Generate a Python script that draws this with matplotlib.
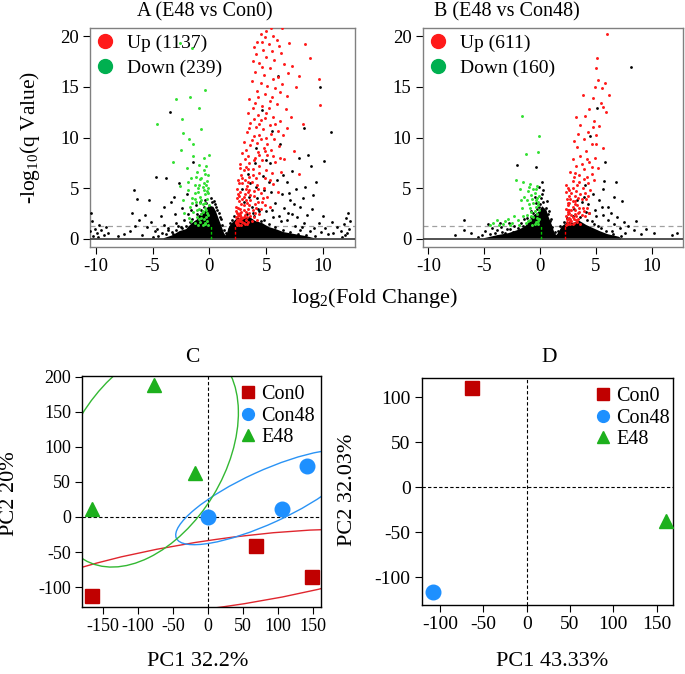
import numpy as np
import matplotlib
matplotlib.use('Agg')
import matplotlib.pyplot as plt
from matplotlib.patches import Ellipse
from matplotlib.lines import Line2D

plt.rcParams['font.family'] = ['Liberation Serif', 'DejaVu Serif']
plt.rcParams['mathtext.fontset'] = 'custom'
plt.rcParams['mathtext.rm'] = 'Liberation Serif'
plt.rcParams['mathtext.default'] = 'regular'
plt.rcParams['axes.unicode_minus'] = False

UP_RED = '#FF1A1A'
DOWN_GREEN = '#33E033'
LEG_GREEN = '#00B050'
SQ_RED = '#C00000'
CI_BLUE = '#1E90FF'
TR_GREEN = '#1DB01D'
FRAME_GRAY = '#808080'

# ---------------- volcano data (log2FC, -log10 q) ----------------
Q_CUT = 1.3
FC_LOW, FC_HIGH = 0.1, 2.25
volcano_titles = ['A (E48 vs Con0)', 'B (E48 vs Con48)']
up_labels = ['Up (1137)', 'Up (611)']
down_labels = ['Down (239)', 'Down (160)']

up_a = [
    (5.4, 20.8), (6.4, 20.8), (4.5, 20.2), (4.9, 19.9), (5.6, 20.0), (5.9, 19.6), (4.2, 19.4), (5.2, 19.2),
    (6.1, 19.0), (7.0, 19.3), (8.4, 19.2), (3.9, 18.9), (4.7, 18.6), (5.5, 18.5), (6.3, 18.3), (8.8, 17.8),
    (4.1, 18.2), (5.0, 17.9), (3.8, 17.5), (4.4, 17.3), (5.7, 17.6), (6.6, 17.2), (7.3, 17.0), (4.0, 16.5),
    (4.8, 16.2), (5.3, 16.8), (6.0, 16.0), (6.9, 16.4), (7.9, 16.1), (9.6, 15.8), (3.7, 15.6), (4.5, 15.4),
    (5.1, 15.1), (5.8, 14.9), (6.4, 15.3), (7.6, 15.0), (9.7, 13.2), (4.2, 14.6), (4.9, 14.3), (5.5, 14.0),
    (6.2, 14.5), (3.5, 13.8), (4.0, 13.4), (4.6, 13.1), (5.2, 12.9), (5.9, 13.3), (6.7, 12.8), (3.4, 12.4),
    (4.3, 12.2), (4.9, 11.9), (5.6, 12.0), (6.2, 11.6), (7.2, 12.0), (3.6, 11.4), (4.1, 11.0), (4.7, 10.8),
    (5.3, 11.2), (6.0, 10.6), (6.8, 10.9), (3.3, 10.5), (4.4, 10.2), (5.0, 10.0), (5.7, 9.9), (8.2, 11.3),
    (3.0, 9.6), (3.6, 9.3), (4.2, 9.5), (4.8, 9.0), (5.4, 8.8), (6.1, 9.2), (7.4, 8.7), (2.9, 8.5),
    (3.4, 8.2), (4.0, 8.0), (4.6, 7.8), (5.1, 8.3), (5.8, 7.6), (6.6, 7.9), (2.7, 7.4), (3.2, 7.1),
    (3.8, 6.9), (4.4, 7.2), (5.0, 6.8), (5.5, 6.5), (6.3, 6.6), (7.9, 6.4), (2.8, 6.3), (3.5, 6.1),
    (4.1, 6.0), (2.5, 5.8), (2.9, 5.5), (3.3, 5.2), (3.7, 5.6), (4.2, 5.3), (4.8, 5.0), (5.6, 5.4),
    (2.4, 4.9), (2.7, 4.6), (3.1, 4.4), (3.5, 4.8), (3.9, 4.2), (4.5, 4.5), (5.1, 4.1), (6.0, 4.6),
    (2.4, 4.0), (2.6, 3.7), (2.9, 3.9), (3.3, 3.5), (3.6, 3.8), (4.0, 3.4), (4.6, 3.6), (5.3, 3.2),
    (2.35, 3.2), (2.7, 3.0), (3.0, 3.3), (3.4, 3.0), (2.3, 2.8), (2.5, 2.5), (2.8, 2.7), (3.1, 2.4),
    (3.5, 2.6), (3.9, 2.2), (4.4, 2.5), (2.35, 2.2), (2.6, 2.0), (2.9, 2.1), (3.2, 1.9), (3.7, 1.8),
    (4.2, 1.9), (2.3, 1.7), (2.5, 1.5), (2.7, 1.8), (3.0, 1.6), (3.3, 1.45), (2.4, 1.35), (2.8, 1.4),
    (2.45, 1.9), (2.55, 2.3), (2.65, 2.6), (2.75, 2.2), (2.4, 2.55), (3.0, 2.85), (2.35, 1.55), (3.4, 6.9),
    (4.3, 8.6), (3.1, 7.9), (3.9, 10.1), (4.5, 11.7), (5.3, 13.6), (4.6, 16.9), (5.0, 20.5), (3.2, 4.9),
    (2.4, 1.5), (2.5, 1.8), (2.6, 1.4), (2.7, 2.4), (2.8, 2.0), (2.9, 1.7), (3.0, 2.2), (3.1, 1.5),
    (3.2, 2.7), (3.3, 2.2), (3.4, 1.7), (3.5, 3.3), (3.6, 2.3), (3.8, 2.9), (4.0, 2.6), (4.1, 3.1),
    (4.3, 3.6), (4.5, 3.0), (4.7, 4.0), (4.9, 3.3), (2.5, 3.1), (2.6, 4.2), (2.8, 3.4), (3.0, 4.1),
    (3.2, 3.8), (3.4, 4.6), (3.6, 4.3), (3.9, 4.7), (4.3, 4.9), (2.5, 4.4), (2.6, 5.5), (2.9, 6.0),
    (3.1, 5.8), (3.4, 5.6), (3.8, 6.3), (4.4, 6.5), (4.9, 6.0), (5.3, 5.8), (2.7, 7.0), (3.0, 6.8),
    (3.5, 7.5), (3.9, 7.8), (4.4, 8.3), (4.9, 8.7), (5.6, 8.2), (6.2, 8.0), (3.2, 8.8), (3.7, 9.8),
    (4.5, 9.9), (5.1, 9.4), (3.9, 11.8), (4.4, 11.3), (5.0, 12.4), (5.8, 11.3), (6.5, 10.2), (3.8, 12.9),
    (4.3, 14.0), (5.6, 15.8), (6.8, 14.1), (4.6, 19.4), (3.5, 10.9), (5.4, 10.3),
]
down_a = [
    (-2.6, 19.3), (-1.5, 18.8), (-0.35, 14.7), (-1.7, 14.0), (-2.9, 13.8), (-0.9, 12.9), (-2.4, 11.8),
    (-4.6, 11.3), (-2.3, 10.4), (-1.4, 9.4), (-3.2, 7.6), (-1.4, 8.2), (-0.5, 8.0), (-0.05, 8.3),
    (-2.0, 7.0), (-1.1, 6.6), (-0.4, 6.4), (-1.6, 6.0), (-0.8, 5.9), (-0.2, 5.7), (-1.3, 5.3),
    (-0.6, 5.1), (-0.1, 5.0), (-1.9, 4.8), (-1.0, 4.6), (-0.4, 4.4), (-0.8, 4.1), (-1.5, 4.0),
    (-0.2, 3.9), (-1.2, 3.6), (-0.6, 3.4), (-0.05, 3.3), (-1.7, 3.2), (-0.9, 3.0), (-0.3, 2.9),
    (-1.4, 2.7), (-0.7, 2.5), (-0.1, 2.4), (-1.1, 2.2), (-0.5, 2.0), (-1.8, 2.1), (-0.2, 1.8),
    (-0.8, 1.7), (-1.3, 1.6), (-0.4, 1.5), (-0.6, 1.35), (-1.0, 1.4), (-0.15, 1.4), (-2.3, 3.8),
    (-2.6, 5.2), (-0.3, 7.2), (-1.8, 9.9), (-0.7, 10.8), (-2.2, 2.6), (-0.45, 5.5), (-0.25, 4.7),
    (-0.7, 3.8), (-0.35, 3.1), (-1.0, 5.0), (-0.55, 2.7), (-0.3, 2.2), (-0.6, 2.8), (-0.9, 2.0),
    (-0.2, 2.6), (-1.1, 2.9), (-0.4, 3.5), (-0.8, 3.5), (-1.3, 3.9), (-0.1, 4.5), (-0.5, 4.8),
    (-0.9, 5.3), (-1.3, 4.5), (-0.3, 5.3), (-0.7, 6.0), (-1.2, 6.1), (-0.15, 6.3), (-0.5, 6.8),
    (-0.9, 7.3), (-1.6, 1.8), (-0.35, 1.55), (-0.75, 2.1), (-1.5, 3.5), (-1.9, 5.6), (-2.5, 8.8),
]
other_a = [
    (-10.4, 2.6), (-10.3, 1.8), (-10.1, 1.0), (-9.9, 0.6), (-9.7, 1.4), (-9.5, 0.9), (-9.3, 0.4),
    (-9.1, 1.2), (-10.2, 0.3), (-9.8, 0.2), (-8.9, 0.6), (-10.5, 0.8), (-6.6, 4.8), (-6.4, 3.9),
    (-5.3, 3.8), (-4.7, 6.1), (-3.5, 12.5), (-3.8, 6.0), (-3.4, 3.6), (-2.7, 5.5), (-3.0, 2.5),
    (-4.3, 2.3), (-5.5, 1.2), (-6.8, 2.6), (-7.5, 0.5), (-4.8, 0.8), (-4.0, 1.4), (-3.6, 0.9),
    (-2.9, 1.6), (-2.5, 1.2), (-2.2, 1.9), (-1.9, 2.5), (-1.6, 2.9), (-1.2, 3.3), (-0.8, 3.6),
    (-0.4, 3.8), (0.1, 4.0), (0.4, 3.7), (0.6, 3.2), (0.8, 2.6), (1.0, 2.0), (-2.0, 4.4), (-1.4, 7.6),
    (-5.9, 0.4), (-6.2, 1.9), (-3.2, 0.5), (-4.5, 0.3), (3.4, 6.4), (4.1, 5.1), (4.7, 6.2), (5.3, 7.5),
    (5.9, 5.8), (6.4, 4.4), (6.8, 5.6), (7.1, 3.8), (7.6, 4.9), (8.0, 3.2), (8.6, 2.4), (9.0, 3.0),
    (9.4, 5.6), (10.1, 7.7), (10.7, 10.5), (9.7, 15.0), (8.7, 8.3), (8.9, 7.2), (7.3, 6.7), (6.2, 9.4),
    (5.5, 10.6), (4.6, 12.7), (6.0, 16.1), (7.7, 2.2), (8.3, 1.6), (9.2, 1.1), (9.8, 0.7), (10.4, 0.5),
    (5.0, 2.8), (5.6, 2.2), (6.3, 1.8), (6.9, 2.6), (4.3, 3.0), (3.8, 2.6), (4.8, 1.9), (7.5, 1.3),
    (10.0, 2.3), (10.8, 1.7), (8.0, 0.9), (11.6, 0.8), (11.8, 1.5), (12.0, 2.1), (12.2, 2.6),
    (12.3, 1.0), (11.9, 0.4), (12.1, 0.6), (12.4, 1.8), (11.7, 0.2), (3.0, 3.6), (3.5, 4.1),
    (4.2, 4.0), (5.4, 4.6), (6.6, 3.1), (5.2, 5.6), (4.0, 7.5), (7.9, 8.0), (8.3, 10.9),
    (-3.8, 0.5), (-3.3, 0.7), (-2.9, 0.9), (-2.6, 0.6), (-2.4, 1.1), (-2.1, 1.3), (-1.8, 1.0),
    (-1.7, 1.7), (-1.5, 2.0), (-1.3, 1.5), (-1.1, 2.5), (-0.9, 2.3), (-0.7, 2.9), (-0.5, 3.2),
    (-0.3, 3.5), (-0.1, 3.1), (0.2, 3.6), (0.5, 3.4), (0.7, 2.9), (0.9, 2.2), (1.1, 1.4), (1.3, 0.9),
    (1.5, 0.6), (1.7, 1.0), (1.8, 1.6), (2.0, 1.9), (2.2, 2.3), (2.6, 2.4), (3.3, 2.5), (3.9, 2.3),
    (4.5, 1.8), (5.2, 1.5), (5.8, 1.2), (6.5, 0.9), (7.1, 0.7), (7.8, 0.5), (8.5, 0.4), (9.3, 0.3),
    (-5.0, 0.2), (-4.2, 0.6), (-3.6, 1.1), (-2.8, 1.3), (-4.6, 1.0), (-1.0, 1.2), (-0.6, 1.9),
    (3.7, 3.2), (4.4, 2.8), (5.5, 2.9), (6.1, 2.3), (6.8, 1.9), (7.3, 2.5), (8.1, 1.2), (8.8, 0.8),
    (9.6, 1.6), (10.2, 1.1), (10.9, 0.6), (11.2, 1.2), (-7.0, 0.8), (-8.0, 0.3), (-6.5, 1.3),
    (-5.7, 2.4), (-5.1, 1.7), (-4.0, 3.2), (-3.1, 4.1), (-2.4, 3.1), (2.9, 4.9), (3.6, 5.5), (4.8, 4.8),
    (5.8, 3.5), (6.5, 6.3), (7.0, 4.5), (8.4, 5.1), (8.2, 4.0), (9.1, 4.3), (7.4, 3.4), (4.1, 9.0),
    (5.0, 7.8),
]
# outline of the solid black mass of non-significant genes
core_a = [
    (-4.0, 0.0), (-3.2, 0.3), (-2.6, 0.7), (-2.0, 0.9), (-1.5, 1.5), (-1.0, 1.9), (-0.7, 2.5),
    (-0.3, 2.7), (0.0, 3.2), (0.3, 3.1), (0.5, 2.7), (0.8, 1.8), (1.0, 1.2), (1.2, 0.6), (1.4, 0.2),
    (1.6, 0.5), (1.8, 1.2), (2.1, 1.6), (2.5, 2.0), (3.0, 1.9), (3.5, 2.1), (4.0, 1.7), (4.6, 1.5),
    (5.2, 1.1), (5.8, 0.9), (6.5, 0.6), (7.5, 0.4), (8.5, 0.2), (9.2, 0.0),
]

up_b = [
    (6.0, 20.2), (5.1, 17.8), (5.0, 16.8), (5.2, 15.7), (5.8, 15.4), (5.5, 14.9), (6.2, 14.2), (3.8, 14.2),
    (4.7, 13.9), (5.4, 13.4), (4.4, 12.8), (3.2, 12.0), (4.0, 12.1), (5.9, 12.5), (4.8, 11.6), (3.6, 11.2),
    (5.3, 11.1), (4.3, 10.5), (5.0, 10.2), (3.9, 9.9), (4.6, 9.4), (3.3, 9.1), (5.6, 9.0), (4.1, 8.7),
    (3.6, 8.2), (4.9, 8.0), (2.9, 7.9), (4.4, 7.6), (3.2, 7.2), (3.9, 6.9), (5.2, 7.0), (2.7, 6.6),
    (3.5, 6.3), (4.2, 6.1), (4.8, 5.8), (2.9, 5.7), (3.3, 5.3), (3.8, 5.0), (4.5, 4.8), (2.5, 5.0),
    (2.8, 4.5), (3.1, 4.2), (3.6, 4.4), (4.1, 3.9), (2.4, 3.9), (2.6, 3.5), (2.9, 3.7), (3.3, 3.3),
    (3.8, 3.1), (2.3, 3.0), (2.5, 2.7), (2.8, 2.9), (3.1, 2.5), (3.5, 2.7), (2.35, 2.3), (2.6, 2.1),
    (2.9, 2.2), (3.2, 1.9), (2.4, 1.7), (2.7, 1.5), (3.0, 1.6), (2.3, 1.4), (3.4, 2.0), (2.5, 2.5),
    (2.7, 2.0), (2.45, 1.95), (2.8, 1.8), (3.6, 1.5), (4.0, 2.3), (2.3, 4.6), (2.35, 5.3), (4.3, 5.5),
    (3.0, 6.1), (4.6, 7.1), (3.4, 10.3), (2.6, 2.9), (3.1, 3.4), (2.45, 3.3), (2.4, 2.0), (2.5, 1.5),
    (2.6, 2.6), (2.7, 1.8), (2.8, 2.4), (2.9, 1.5), (3.0, 2.0), (3.1, 2.9), (3.2, 2.3), (3.3, 1.7),
    (3.4, 2.6), (3.5, 3.1), (3.7, 2.4), (3.9, 2.8), (4.2, 3.1), (4.4, 2.6), (2.5, 3.5), (2.7, 3.9),
    (2.9, 3.2), (3.1, 3.7), (3.4, 4.0), (3.7, 3.9), (4.0, 4.5), (4.3, 4.2), (2.6, 4.8), (2.9, 5.0),
    (3.2, 4.7), (3.5, 5.6), (3.9, 5.9), (4.6, 6.4), (3.1, 6.5), (3.7, 7.4), (4.2, 7.9), (5.0, 9.4),
    (3.0, 9.7), (4.7, 11.0), (5.6, 13.0), (4.9, 15.0), (2.45, 2.9), (2.55, 4.2),
]
down_b = [
    (-1.6, 12.1), (-0.1, 10.1), (-0.15, 8.6), (-1.3, 8.4), (-2.2, 5.8), (-1.5, 5.6), (-0.9, 5.4),
    (-0.3, 5.2), (-1.8, 4.9), (-1.1, 4.7), (-0.5, 4.5), (-0.1, 4.2), (-1.4, 4.1), (-0.7, 3.9),
    (-0.2, 3.6), (-1.0, 3.4), (-0.4, 3.2), (-1.6, 3.1), (-0.1, 2.9), (-0.8, 2.7), (-0.3, 2.5),
    (-1.2, 2.4), (-0.6, 2.2), (-0.1, 2.0), (-0.9, 1.9), (-0.4, 1.7), (-1.3, 1.6), (-0.2, 1.5),
    (-0.7, 1.4), (-2.0, 1.9), (-2.5, 1.6), (-2.9, 2.0), (-3.3, 1.5), (-3.7, 1.4), (-4.2, 1.6),
    (-4.5, 1.35), (-2.7, 1.35), (-1.9, 1.4), (-2.3, 2.3), (-0.35, 3.8), (-0.6, 4.9), (-0.3, 2.1),
    (-0.5, 2.8), (-0.8, 2.3), (-0.2, 3.3), (-0.6, 3.5), (-0.9, 3.1), (-0.3, 4.0), (-0.8, 4.3),
    (-1.2, 3.8), (-0.4, 4.9), (-1.0, 5.1), (-0.2, 1.8), (-0.5, 1.5), (-1.1, 1.8), (-1.5, 2.3),
    (-1.7, 3.8), (-3.1, 1.8), (-3.9, 1.9),
]
other_b = [
    (-6.8, 1.9), (-4.7, 1.5), (-4.3, 1.1), (-3.9, 0.9), (-3.5, 1.2), (-3.1, 0.6), (-2.7, 1.0),
    (-2.4, 0.7), (-2.0, 1.1), (-1.7, 1.6), (-1.2, 2.1), (-0.8, 2.8), (-0.4, 3.5), (0.1, 4.0),
    (0.3, 4.8), (0.6, 3.7), (0.8, 2.8), (1.0, 2.0), (-2.1, 7.3), (-0.4, 7.1), (-5.2, 0.4),
    (-4.9, 0.8), (-3.8, 0.3), (-2.2, 0.4), (3.0, 3.0), (3.7, 3.6), (4.3, 3.4), (4.9, 2.9),
    (5.3, 3.8), (4.7, 4.4), (5.6, 4.9), (4.0, 5.3), (5.8, 7.6), (6.8, 5.6), (8.1, 16.9), (5.6, 2.4),
    (6.1, 1.9), (6.6, 1.5), (7.1, 1.1), (7.5, 1.7), (6.4, 0.8), (7.6, 0.6), (8.4, 0.9), (9.0, 0.5),
    (5.2, 1.3), (4.6, 1.8), (4.1, 2.7), (3.3, 3.8), (11.8, 0.4), (12.2, 0.6), (4.5, 10.1),
    (5.1, 12.9), (5.7, 5.7), (6.1, 3.2), (0.2, 4.4), (-0.1, 3.2), (-4.5, 0.5), (-4.0, 0.6),
    (-3.4, 0.7), (-3.0, 1.0), (-2.6, 0.5), (-2.3, 1.3), (-1.9, 0.8), (-1.5, 1.3), (-1.4, 2.0),
    (-1.0, 1.7), (-0.8, 2.2), (-0.6, 2.6), (-0.3, 3.0), (0.0, 3.4), (0.3, 3.6), (0.5, 3.1),
    (0.7, 2.5), (0.9, 1.8), (1.1, 1.2), (1.3, 0.7), (1.6, 0.8), (1.8, 1.3), (2.1, 1.7), (2.4, 2.1),
    (2.9, 2.3), (3.6, 2.2), (4.2, 1.9), (4.8, 1.5), (5.4, 1.1), (5.9, 0.8), (6.5, 0.5), (7.2, 0.3),
    (-5.6, 0.2), (-6.2, 0.6), (-3.6, 1.6), (-2.8, 1.6), (-0.1, 5.1), (0.2, 5.6), (-0.5, 4.1),
    (3.9, 4.1), (4.4, 2.6), (5.0, 2.3), (5.5, 3.2), (6.3, 2.6), (6.9, 2.2), (7.9, 1.3), (8.6, 1.8),
    (7.3, 3.7), (6.6, 4.1), (9.5, 1.0), (10.2, 0.6), (-7.6, 0.4), (-6.8, 0.9),
]
core_b = [
    (-5.0, 0.0), (-3.8, 0.3), (-2.8, 0.5), (-2.0, 0.8), (-1.4, 1.1), (-0.9, 1.6), (-0.5, 2.3),
    (-0.1, 2.6), (0.2, 3.1), (0.5, 2.8), (0.7, 2.1), (1.0, 1.3), (1.2, 0.6), (1.45, 0.25), (1.7, 0.6),
    (2.0, 1.2), (2.5, 1.6), (3.0, 1.5), (3.5, 1.7), (4.1, 1.3), (4.7, 1.0), (5.3, 0.7), (6.0, 0.4),
    (7.0, 0.15), (7.2, 0.0),
]

# ---------------- PCA data ----------------
groups = ['Con0', 'Con48', 'E48']
pca_c = {
    'Con0': ([68, 148, -166], [-42, -85, -113]),
    'Con48': ([0, 106, 141], [0, 12, 72]),
    'E48': ([-77, -18, -166], [188, 62, 12]),
}
pca_d = {
    'Con0': ([-63], [111]),
    'Con48': ([-108], [-117]),
    'E48': ([161], [-38]),
}
group_style = {
    'Con0': dict(marker='s', color=SQ_RED, ms=9.5, leg_ms=8),
    'Con48': dict(marker='o', color=CI_BLUE, ms=10.5, leg_ms=8.5),
    'E48': dict(marker='^', color=TR_GREEN, ms=10.5, leg_ms=8.5),
}
ellipse_color = {'Con0': '#E0262E', 'Con48': '#2A93F5', 'E48': '#33B833'}
ELL_K = 1.75


fig = plt.figure(figsize=(6.85, 6.74), dpi=100)


def px_axes(l, t, r, b):
    return fig.add_axes([l / 685, 1 - b / 674, (r - l) / 685, (b - t) / 674])


def style_ticks(ax, size, frame='black'):
    ax.tick_params(direction='out', length=5, width=0.8, labelsize=size, colors='black', pad=3)
    for s in ax.spines.values():
        s.set_edgecolor(frame)
        s.set_linewidth(1.0)


def volcano(ax, up, down, other, core, up_lab, down_lab):
    cx, cy = zip(*core)
    ax.fill(cx, cy, color='black', lw=1.2, ec='black', zorder=2)
    ox, oy = zip(*other)
    ax.scatter(ox, oy, s=4, c='black', lw=0, zorder=3)
    dx, dy = zip(*down)
    ax.scatter(dx, dy, s=4.5, c=DOWN_GREEN, lw=0, zorder=4)
    ux, uy = zip(*up)
    ax.scatter(ux, uy, s=4.5, c=UP_RED, lw=0, zorder=4)
    ax.axhline(0, color='#444444', lw=1.3, zorder=5)
    ax.axhline(Q_CUT, color='#A0A0A0', lw=0.9, ls=(0, (4, 3)), zorder=1)
    ax.vlines(FC_LOW, 0, Q_CUT, color='#00CC00', lw=1.0, ls=(0, (2, 1.5)), zorder=6)
    ax.vlines(FC_HIGH, 0, Q_CUT, color='#FF0000', lw=1.0, ls=(0, (2, 1.5)), zorder=6)
    ax.set_xlim(-10.5, 12.8)
    ax.set_ylim(-0.76, 20.82)
    ax.set_xticks([-10, -5, 0, 5, 10])
    ax.set_yticks([0, 5, 10, 15, 20])
    style_ticks(ax, 13.5, FRAME_GRAY)
    handles = [
        Line2D([], [], ls='', marker='o', ms=10, color=UP_RED, label=up_lab),
        Line2D([], [], ls='', marker='o', ms=10, color=LEG_GREEN, label=down_lab),
    ]
    ax.legend(handles=handles, loc='upper left', bbox_to_anchor=(-0.014, 1.0), frameon=False,
              fontsize=14, handletextpad=0.55, labelspacing=0.38, borderaxespad=0.15,
              borderpad=0.2, handlelength=1.2)


ax_a = px_axes(90, 27.7, 355, 246.7)
volcano(ax_a, up_a, down_a, other_a, core_a, up_labels[0], down_labels[0])
ax_b = px_axes(422.7, 27.7, 683.3, 246.7)
volcano(ax_b, up_b, down_b, other_b, core_b, up_labels[1], down_labels[1])

fig.text(205 / 685, 1 - 11.5 / 674, volcano_titles[0], ha='center', va='center', fontsize=14.5)
fig.text(507 / 685, 1 - 11.5 / 674, volcano_titles[1], ha='center', va='center', fontsize=14.5)
fig.text(30 / 685, 1 - 137 / 674, '-log$_{10}$(q Value)', ha='center', va='center',
         rotation=90, fontsize=15.5)
fig.text(375 / 685, 1 - 298 / 674, 'log$_{2}$(Fold Change)', ha='center', va='center', fontsize=16)


def pca_panel(ax, data, ellipses, legend_shift):
    ax.axhline(0, color='black', lw=0.8, ls=(0, (3, 2)), zorder=1)
    ax.axvline(0, color='black', lw=0.8, ls=(0, (3, 2)), zorder=1)
    for g in groups:
        xs, ys = data[g]
        st = group_style[g]
        if ellipses:
            pts = np.array([xs, ys], dtype=float)
            mu = pts.mean(axis=1)
            vals, vecs = np.linalg.eigh(np.cov(pts))
            ang = np.degrees(np.arctan2(vecs[1, 1], vecs[0, 1]))
            ax.add_patch(Ellipse(mu, 2 * ELL_K * np.sqrt(vals[1]), 2 * ELL_K * np.sqrt(vals[0]),
                                 angle=ang, fill=False, ec=ellipse_color[g], lw=1.0, zorder=2))
        ax.plot(xs, ys, ls='', marker=st['marker'], ms=st['ms'], color=st['color'],
                mec=st['color'], zorder=3, clip_on=False)
    handles = [Line2D([], [], ls='', marker=group_style[g]['marker'], ms=group_style[g]['leg_ms'],
                      color=group_style[g]['color'], label=g) for g in groups]
    ax.legend(handles=handles, loc='upper right', bbox_to_anchor=(1 + legend_shift, 1.017),
              frameon=False, fontsize=14.5, handletextpad=0.05, labelspacing=0.12,
              borderaxespad=0.25, handlelength=1.2)


ax_c = px_axes(82.3, 376, 321, 607)
pca_panel(ax_c, pca_c, True, 0.029)
ax_c.set_xlim(-179.6, 161.4)
ax_c.set_ylim(-128.3, 200.9)
ax_c.set_xticks([-150, -100, -50, 0, 50, 100, 150])
ax_c.set_yticks([-100, -50, 0, 50, 100, 150, 200])
style_ticks(ax_c, 13)

ax_d = px_axes(421.7, 378, 673, 605)
pca_panel(ax_d, pca_d, False, 0.04)
ax_d.set_xlim(-121, 168.7)
ax_d.set_ylim(-131, 121.7)
ax_d.set_xticks([-100, -50, 0, 50, 100, 150])
ax_d.set_yticks([-100, -50, 0, 50, 100])
style_ticks(ax_d, 14)

fig.text(192 / 685, 1 - 358 / 674, 'C', ha='center', va='center', fontsize=15.5)
fig.text(549 / 685, 1 - 358 / 674, 'D', ha='center', va='center', fontsize=15.5)
fig.text(10 / 685, 1 - 494 / 674, 'PC2 20%', ha='center', va='center', rotation=90, fontsize=16)
fig.text(198 / 685, 1 - 661 / 674, 'PC1 32.2%', ha='center', va='center', fontsize=16)
fig.text(348 / 685, 1 - 490 / 674, 'PC2 32.03%', ha='center', va='center', rotation=90, fontsize=16)
fig.text(552 / 685, 1 - 661 / 674, 'PC1 43.33%', ha='center', va='center', fontsize=16)

fig.savefig('out.png', dpi=100)
